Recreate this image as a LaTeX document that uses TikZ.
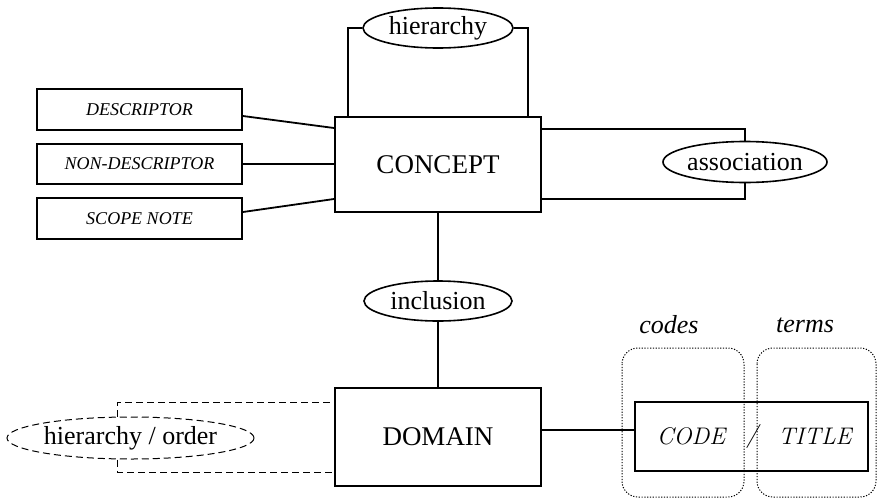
\documentclass[tikz,border=0pt]{standalone}
\usepackage{fontspec}
\setmainfont{Liberation Serif}
\newfontfamily\lmfont{Latin Modern Roman}
\usetikzlibrary{shapes.geometric,calc}
\begin{document}
\begin{tikzpicture}[x=1pt,y=-1pt,
  line width=1.8pt,
  entity/.style={draw,rectangle,line width=2pt,inner sep=0pt,
    font=\fontsize{27}{30}\selectfont},
  attrbox/.style={draw,rectangle,line width=1.8pt,minimum width=205pt,inner sep=0pt,
    font=\fontsize{18}{20}\selectfont\itshape},
  relation/.style={draw,ellipse,line width=1.6pt,inner sep=0pt,
    font=\fontsize{26}{28}\selectfont},
  link/.style={line width=1.8pt},
  dashlink/.style={line width=1pt,dash pattern=on 7pt off 4pt},
  group/.style={draw,line width=1pt,dash pattern=on 1.2pt off 1.6pt,rounded corners=16pt},
  grouplabel/.style={font=\fontsize{26}{28}\selectfont\itshape},
  fieldtext/.style={font=\lmfont\fontsize{24}{26}\selectfont\itshape,inner sep=0pt}
]
\useasboundingbox (0,0) rectangle (877,498);

% entities
\node[entity,minimum width=206pt,minimum height=95pt] (concept) at (438,164.5) {CONCEPT};
\node[entity,minimum width=206pt,minimum height=98pt] (domain) at (438,437) {DOMAIN};

% attribute boxes of a concept
\node[attrbox,minimum height=41pt] (desc) at (139.5,109.5) {DESCRIPTOR};
\node[attrbox,minimum height=40pt] (nondesc) at (139.5,164) {NON-DESCRIPTOR};
\node[attrbox,minimum height=41pt] (scope) at (139.5,218.5) {SCOPE NOTE};

% relationships
\node[relation,minimum width=150pt,minimum height=40pt] (hier) at (438,28) {hierarchy};
\node[relation,minimum width=164pt,minimum height=41pt] (assoc) at (745,162) {association};
\node[relation,minimum width=148pt,minimum height=40pt] (incl) at (438,301) {inclusion};
\node[relation,dashlink,minimum width=247pt,minimum height=42pt] (horder) at (130.5,438) {hierarchy / order};

% code / title record
\node[draw,rectangle,line width=2pt,minimum width=233pt,minimum height=69pt,inner sep=0pt]
  (record) at (751.5,436.5) {};
\node[fieldtext] (code) at (691,436) {CODE};
\node[fieldtext] (slash) at (752,436) {/};
\node[fieldtext] (title) at (815,436) {TITLE};

% groupings over the record
\draw[group] (622,348) rectangle (744,497);
\draw[group] (757,348) rectangle (876,497);
\node[grouplabel] (codes) at (669,325) {codes};
\node[grouplabel] (terms) at (805,325) {terms};

% hierarchy loop on concept
\draw[link] (hier.west) -| ([xshift=14pt]concept.north west);
\draw[link] (hier.east) -| ([xshift=-14pt]concept.north east);

% association loop on concept
\draw[link] ([yshift=-13pt]concept.north east) -| (assoc.north);
\draw[link] (assoc.south) |- ([yshift=14pt]concept.south east);

% attributes to concept
\draw[link] ([yshift=-6.5pt]desc.east) -- ([yshift=-12pt]concept.north west);
\draw[link] (nondesc.east) -- (nondesc.east -| concept.west);
\draw[link] ([yshift=6.5pt]scope.east) -- ([yshift=14pt]concept.south west);

% inclusion between concept and domain
\draw[link] (concept.south) -- (incl.north);
\draw[link] (incl.south) -- (domain.north);

% domain to record
\draw[link] ([yshift=7pt]domain.east) -- ([yshift=7pt]domain.east -| record.west);

% optional hierarchy / order loop on domain
\draw[dashlink] ([xshift=-13pt]horder.north) |- ([yshift=-15pt]domain.north west);
\draw[dashlink] ([xshift=-13pt]horder.south) |- ([yshift=15pt]domain.south west);
\end{tikzpicture}
\end{document}
